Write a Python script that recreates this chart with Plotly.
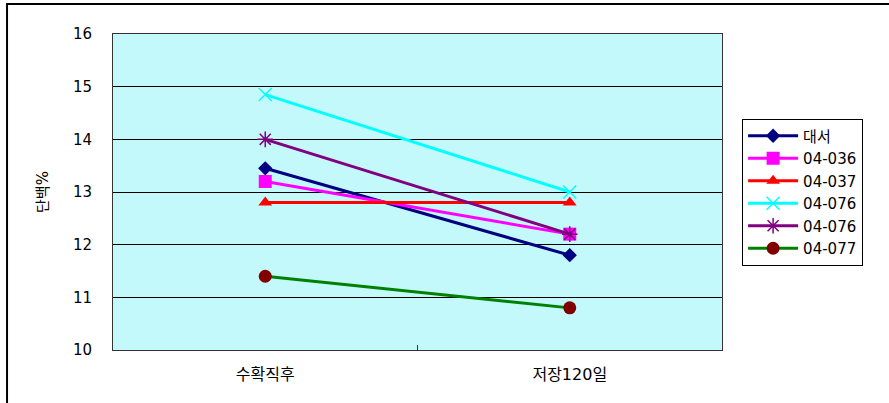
import plotly.graph_objects as go

# 수확직후 vs 저장120일 단백질 함량 비교
categories = ["수확직후", "저장120일"]

series_names = ["대서", "04-036", "04-037", "04-076", "04-076", "04-077"]
daeseo = [13.45, 11.8]
v04_036 = [13.2, 12.2]
v04_037 = [12.8, 12.8]
v04_076a = [14.85, 13.0]
v04_076b = [14.0, 12.2]
v04_077 = [11.4, 10.8]

y_ticks = [10, 11, 12, 13, 14, 15, 16]

series_values = [daeseo, v04_036, v04_037, v04_076a, v04_076b, v04_077]
line_colors = ["#000080", "#ff00ff", "#ff0000", "#00ffff", "#800080", "#008000"]
marker_colors = ["#000080", "#ff00ff", "#ff0000", "#00ffff", "#800080", "#800000"]
marker_symbols = ["diamond", "square", "triangle-up", "x-thin-open", "asterisk-open", "circle"]
marker_sizes = [11, 13, 12, 13, 13, 13]

fig = go.Figure()
for name, vals, lc, mc, sym, ms in zip(series_names, series_values, line_colors,
                                       marker_colors, marker_symbols, marker_sizes):
    marker = dict(symbol=sym, size=ms, color=mc)
    if sym.endswith("-open"):
        marker["line"] = dict(color=mc, width=1.5)
    fig.add_trace(go.Scatter(
        x=categories, y=vals, name=name, mode="lines+markers",
        line=dict(color=lc, width=3), marker=marker,
    ))

font_family = "Liberation Sans, Noto Sans CJK KR, sans-serif"
wide_family = "DejaVu Sans, Noto Sans CJK KR, sans-serif"

fig.update_layout(
    width=889, height=403,
    margin=dict(l=113, r=167, t=34, b=53),
    paper_bgcolor="white",
    plot_bgcolor="#c4f9fc",
    font=dict(family=font_family, size=12, color="black"),
    showlegend=True,
    legend=dict(
        x=1.033, xanchor="left", y=0.5, yanchor="middle",
        bordercolor="black", borderwidth=1, bgcolor="white",
        font=dict(size=15, family=wide_family), tracegroupgap=0,
        itemwidth=50,
    ),
    xaxis=dict(
        type="category", range=[-0.5, 1.5],
        showgrid=False, showline=True, linecolor="#333333", linewidth=1, mirror=True,
        ticks="inside", tickson="boundaries", ticklen=5, tickcolor="#333333",
        ticklabelstandoff=10, tickfont=dict(size=16, family=wide_family),
    ),
    yaxis=dict(
        range=[10, 16], tickvals=y_ticks,
        showgrid=True, gridcolor="black", gridwidth=1,
        showline=True, linecolor="#333333", linewidth=1, mirror=True,
        ticks="", ticklabelstandoff=17, tickfont=dict(size=15, family=wide_family),
        zeroline=False,
        title=dict(text="단백%", standoff=20, font=dict(size=15, family=wide_family)),
    ),
    shapes=[dict(
        type="rect", xref="paper", yref="paper",
        x0=-0.174, x1=1.5, y0=-0.5, y1=1.095,
        line=dict(color="black", width=2), fillcolor="rgba(0,0,0,0)", layer="below",
    )],
)

fig.write_html("out.html")
